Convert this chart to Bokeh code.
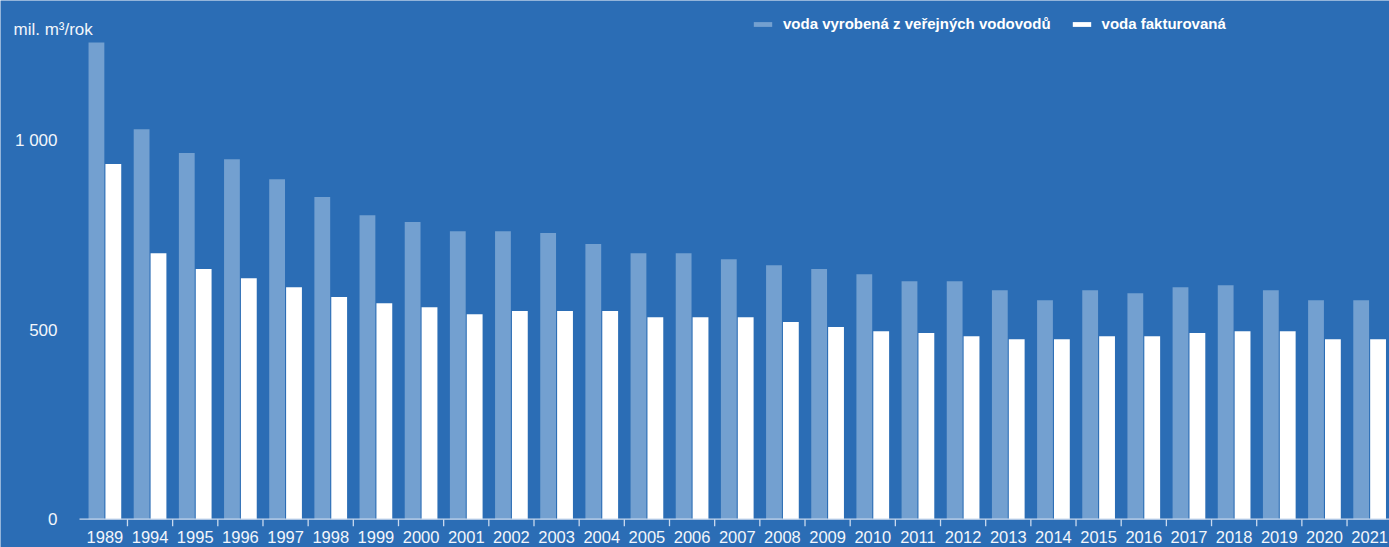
from bokeh.plotting import figure
from bokeh.models import ColumnDataSource, Range1d, Label, Legend, LegendItem
from bokeh.core.properties import value
from bokeh.transform import dodge
from bokeh.embed import file_html
from bokeh.resources import INLINE

years = ["1989", "1994", "1995", "1996", "1997", "1998", "1999", "2000", "2001", "2002",
         "2003", "2004", "2005", "2006", "2007", "2008", "2009", "2010", "2011", "2012",
         "2013", "2014", "2015", "2016", "2017", "2018", "2019", "2020", "2021"]
vyrobena = [1258, 1029, 966, 950, 897, 850, 802, 784, 760, 760,
            755, 726, 702, 702, 686, 670, 660, 646, 628, 628,
            604, 578, 604, 596, 612, 617, 604, 578, 578]
fakturovana = [937, 702, 660, 636, 612, 586, 570, 559, 541, 549,
               549, 549, 533, 533, 533, 520, 507, 496, 491, 483,
               475, 475, 483, 483, 491, 496, 496, 475, 475]
y_ticks = [0, 500, 1000]
y_tick_labels = ["0", "500", "1 000"]
unit_label = "mil. m³/rok"
series_names = ["voda vyrobená z veřejných vodovodů", "voda fakturovaná"]

BG = "#2B6DB5"
LIGHT = "#73A0D0"
WHITE = "#FFFFFF"
TXT = "#F2F6FB"
AXIS = "#C9D9EE"
FONT = "Liberation Sans"

n = len(years)
centers = [i + 0.5 for i in range(n)]
boundaries = list(range(1, n))
src = ColumnDataSource(dict(x=centers, vyr=vyrobena, fak=fakturovana, year=years))

# category i occupies [i, i+1]; value axis in mil. m3
X0, X1 = -1.811, 28.94
Y0, Y1 = -74.7, 1368.6
AXIS_START = -0.062       # left end of the baseline
YLABEL_X = -0.549         # right edge of the value labels
TICK_LEN = 18.5           # boundary tick length (value units)
XLABEL_Y = -48.3          # vertical middle of the year labels (value units)

p = figure(width=1389, height=547, x_range=Range1d(X0, X1), y_range=Range1d(Y0, Y1),
           output_backend="svg", toolbar_location=None,
           min_border_left=0, min_border_right=0, min_border_top=0, min_border_bottom=0)
p.background_fill_color = BG
p.border_fill_color = BG
p.outline_line_color = None
p.xgrid.visible = False
p.ygrid.visible = False
p.xaxis.visible = False
p.yaxis.visible = False

r1 = p.vbar(x=dodge("x", -0.187), top="vyr", bottom=0, width=0.35, source=src,
            fill_color=LIGHT, line_color=None)
r2 = p.vbar(x=dodge("x", 0.187), top="fak", bottom=0, width=0.35, source=src,
            fill_color=WHITE, line_color=None)

# category axis: baseline, boundary ticks, year labels
p.segment(x0=[AXIS_START], y0=[0], x1=[X1 + 1], y1=[0], line_color=AXIS, line_width=1.3)
p.segment(x0=boundaries, y0=[0] * len(boundaries), x1=boundaries,
          y1=[-TICK_LEN] * len(boundaries), line_color=AXIS, line_width=1.3)
p.text(x=centers, y=[XLABEL_Y] * n, text=years, text_align="center",
       text_baseline="middle", text_font=value(FONT), text_font_size="16.5px",
       text_color=TXT)

# value labels on the left
p.text(x=[YLABEL_X] * len(y_ticks), y=y_ticks, text=y_tick_labels,
       text_align="right", text_baseline="middle", text_font=value(FONT),
       text_font_size="17px", text_color=TXT)

p.add_layout(Label(x=13, y=518, x_units="screen", y_units="screen", text=unit_label,
                   text_font=FONT, text_font_size="17px", text_color=TXT,
                   text_baseline="alphabetic"))

legend = Legend(items=[LegendItem(label=series_names[0], renderers=[r1]),
                       LegendItem(label=series_names[1], renderers=[r2])],
                orientation="horizontal", location=(751, 515), padding=0, margin=0,
                spacing=19, glyph_width=23, glyph_height=6, label_standoff=9,
                label_text_font=FONT, label_text_font_size="15px",
                label_text_font_style="bold", label_text_color=WHITE,
                background_fill_alpha=0, border_line_alpha=0)
p.add_layout(legend)

open("out.html", "w").write(file_html(p, INLINE))
